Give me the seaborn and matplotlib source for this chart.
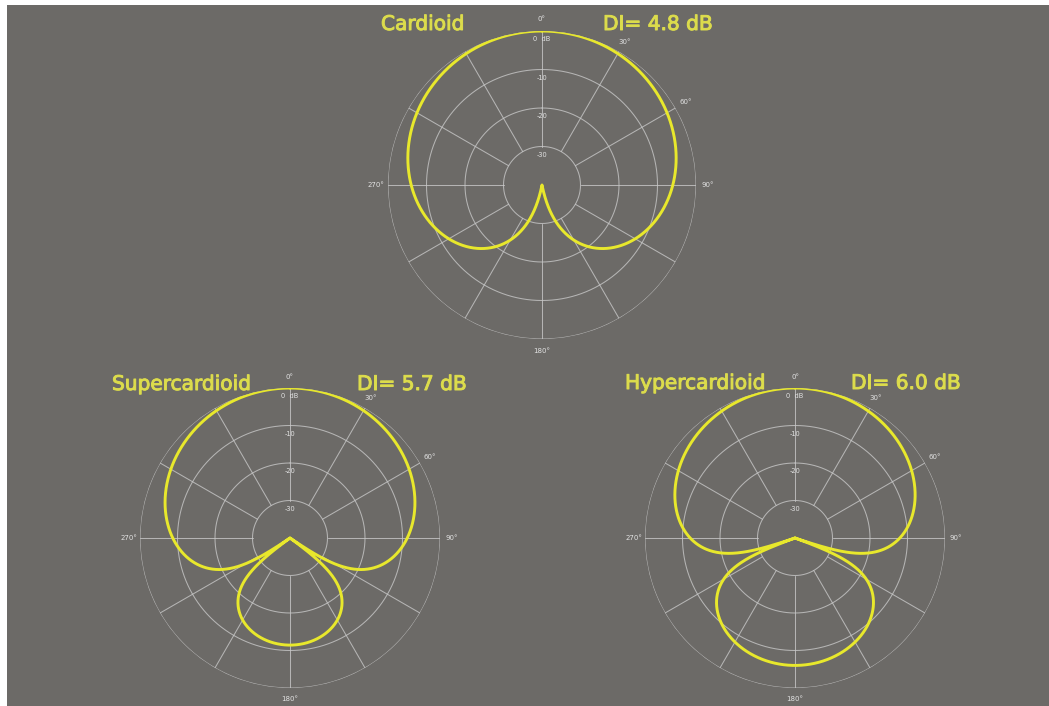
import numpy as np
import pandas as pd
import matplotlib
matplotlib.use("Agg")
import matplotlib.pyplot as plt
import matplotlib.patheffects as pe
from matplotlib.patches import Rectangle
import seaborn as sns

# First-order microphone patterns: g(theta) = A + (1 - A) * cos(theta)
patterns = ["Cardioid", "Supercardioid", "Hypercardioid"]
omni_weight = [0.50, 0.366, 0.25]
directivity_db = [4.8, 5.7, 6.0]

# Polar grid
ring_levels = [-30, -20, -10, 0]
ring_labels = ["-30", "-20", "-10", "0  dB"]
spoke_angles = list(range(0, 360, 30))
angle_ticks = [0, 30, 60, 90, 180, 270]
angle_texts = ["0°", "30°", "60°", "90°", "180°", "270°"]
db_floor = -40

W, H = 1049, 706
BG = "#6c6a67"
GRID = "#c8c8c8"
CURVE = "#e8e82c"
TEXT = "#dcdc4c"

sns.set_style("dark")
plt.rcParams["font.family"] = ["DejaVu Sans"]

fig = plt.figure(figsize=(W / 100, H / 100), dpi=100, facecolor="white")
fig.patches.append(Rectangle((7 / W, 0), 1 - 7 / W, (H - 5) / H,
                             transform=fig.transFigure, facecolor=BG,
                             edgecolor="none", zorder=-10))

# axes boxes in pixels: (left, top, size)
boxes = [(388, 31, 308), (140, 388, 300), (645, 388, 300)]
# title / DI label anchors in pixels: (name_x, di_x, baseline_y)
label_pos = [(381, 603, 30), (112, 357, 390), (625, 851, 389)]


def px(x, y):
    return x / W, 1 - y / H


theta = np.linspace(0, 2 * np.pi, 2881)
full = np.linspace(0, 2 * np.pi, 721)
heavy = [pe.withStroke(linewidth=0.7, foreground=TEXT)]

for name, a, di, (l, t, s), (nx, dx, by) in zip(
        patterns, omni_weight, directivity_db, boxes, label_pos):
    ax = fig.add_axes([l / W, 1 - (t + s) / H, s / W, s / H],
                      projection="polar")
    ax.set_facecolor("none")
    ax.set_theta_zero_location("N")
    ax.set_theta_direction(-1)
    ax.grid(False)
    ax.spines["polar"].set_visible(False)
    ax.set_xticks([])
    ax.set_yticks([])

    for lev in ring_levels:
        ax.plot(full, np.full_like(full, lev), color=GRID, lw=0.75,
                alpha=0.8, zorder=1)
    for ang in spoke_angles:
        r = np.deg2rad(ang)
        ax.plot([r, r], [ring_levels[0], ring_levels[-1]], color=GRID,
                lw=0.75, alpha=0.8, zorder=1)

    g = a + (1 - a) * np.cos(theta)
    level = np.clip(20 * np.log10(np.maximum(np.abs(g), 1e-9)), db_floor, 0)
    df = pd.DataFrame({"theta": theta, "level": level})
    sns.lineplot(data=df, x="theta", y="level", ax=ax, sort=False,
                 estimator=None, color=CURVE, lw=2.1, zorder=3)
    ax.set_xlabel("")
    ax.set_ylabel("")
    ax.set_ylim(db_floor, 0)

    for lev, lab in zip(ring_levels, ring_labels):
        ax.text(0, lev - 2.2, lab, ha="center", va="center",
                fontsize=4.8, color="#e2e2e2", zorder=4)
    for ang, lab in zip(angle_ticks, angle_texts):
        ax.text(np.deg2rad(ang), 3.0, lab, ha="center", va="center",
                fontsize=5, color="#e2e2e2", clip_on=False, zorder=4)

    fig.text(*px(nx, by), name, ha="left", va="baseline",
             fontsize=14.5, color=TEXT, path_effects=heavy)
    fig.text(*px(dx, by), f"DI= {di:.1f} dB", ha="left", va="baseline",
             fontsize=14.5, color=TEXT, path_effects=heavy)

fig.savefig("out.png", dpi=100, facecolor="white")
